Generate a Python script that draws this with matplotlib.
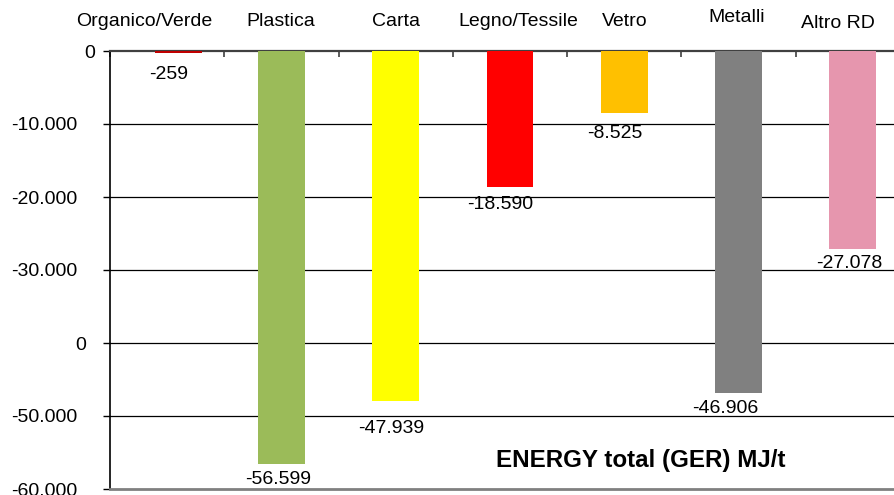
import matplotlib
matplotlib.use("Agg")
import matplotlib.pyplot as plt
import matplotlib.transforms as mtransforms
import numpy as np

plt.rcParams['font.family'] = ['Liberation Sans', 'DejaVu Sans']

# GER energy balance per fraction (MJ/t)
categories = ['Organico/Verde', 'Plastica', 'Carta', 'Legno/Tessile',
              'Vetro', 'Metalli', 'Altro RD']
values = [-259, -56599, -47939, -18590, -8525, -46906, -27078]
value_labels = ['-259', '-56.599', '-47.939', '-18.590', '-8.525',
                '-46.906', '-27.078']
colors = ['#C00000', '#9BBB59', '#FFFF00', '#FF0000', '#FFC000',
          '#808080', '#E696AE']
yticks = [0, -10000, -20000, -30000, -40000, -50000, -60000]
ytick_labels = ['0', '-10.000', '-20.000', '-30.000', '0', '-50.000', '-60.000']

# hand-placed offsets (pixels) of the text boxes
bar_shift = [0.1, 0, 0, 0, 0, 0, 0]
value_offsets = [(-10, -22), (-3, -15), (-5, -28), (-10, -18),
                 (-9, -20), (-13, -15), (-4, -15)]
cat_offsets = [(-23, 0), (-1, 0), (0, 0), (8, 0), (0, 0), (-2, 3), (-15, -2)]

W, H = 895, 495
PX = 72 / 100  # points per pixel at 100 dpi
fig = plt.figure(figsize=(W / 100, H / 100), dpi=100)
ax = fig.add_axes([110 / W, 1 - 489 / H, 800 / W, 438 / H])

x = np.arange(len(categories))
ax.set_xlim(-0.5, len(categories) - 0.5)
ax.set_ylim(-60000, 0)

# gridlines behind the bars
for t in yticks[1:-1]:
    ax.axhline(t, color='black', lw=0.9, zorder=1)

# faint second series under the first bar
ax.bar(x[0], -120, width=0.4, color='#4F81BD', zorder=2)
ax.bar(x + np.array(bar_shift), values, width=0.41, color=colors, zorder=3)

for xi, s, v, lab, (dx, dy) in zip(x, bar_shift, values, value_labels, value_offsets):
    ax.annotate(lab, (xi + s, v), xytext=(dx, dy), textcoords='offset pixels',
                ha='center', va='center', fontsize=14, zorder=4)

for xi, lab, (dx, dy) in zip(x, categories, cat_offsets):
    ax.annotate(lab, (xi, 1), xycoords=('data', 'axes fraction'),
                xytext=(dx, 30 + dy), textcoords='offset pixels',
                ha='center', va='center', fontsize=14)

# axes styling
ax.spines['right'].set_visible(False)
ax.spines['bottom'].set_color('#808080')
ax.spines['bottom'].set_linewidth(2)
ax.spines['top'].set_color('#404040')
ax.spines['top'].set_linewidth(1.6)
ax.spines['left'].set_linewidth(1.2)

ax.xaxis.set_ticks_position('top')
ax.set_xticks(np.arange(-0.5, len(categories), 1.0))
ax.tick_params(axis='x', direction='in', length=6 * PX, width=1.2,
               color='#404040', labeltop=False, labelbottom=False)

ax.set_yticks(yticks)
ax.set_yticklabels(ytick_labels, fontsize=14)
ax.tick_params(axis='y', direction='out', length=7 * PX, width=1, pad=26 * PX)
for lab, t in zip(ax.get_yticklabels(), ytick_labels):
    if t == '0':
        shift = 18 if lab.get_position()[1] == 0 else 9
        lab.set_transform(lab.get_transform() +
                          mtransforms.ScaledTranslation(shift / 100, 0, fig.dpi_scale_trans))

fig.text(641 / W, 1 - 460 / H, 'ENERGY total (GER) MJ/t', fontsize=17.4,
         fontweight='bold', ha='center', va='center')

fig.savefig('out.png', dpi=100)
